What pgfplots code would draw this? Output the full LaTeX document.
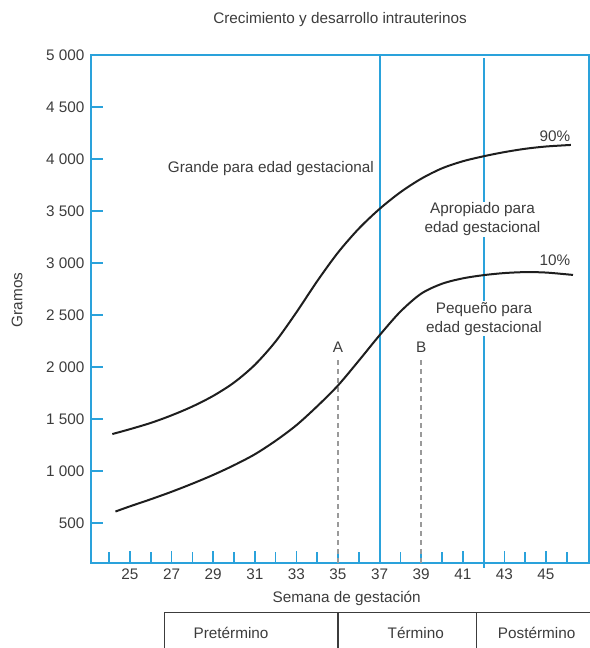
\documentclass[border=0pt]{standalone}
\usepackage{fontspec}
\setmainfont{Liberation Sans}
\usepackage{pgfplots}
\pgfplotsset{compat=1.18}

\definecolor{lineblue}{HTML}{2AA2DB}
\definecolor{txtgray}{HTML}{3C3C3C}
\definecolor{dashgray}{HTML}{9A9A9A}
\definecolor{curve}{HTML}{1E1E1E}

\begin{document}
\begin{tikzpicture}[font=\fontsize{15.3bp}{19bp}\selectfont]
\path[use as bounding box] (0,0) rectangle (590bp,648bp);
\begin{axis}[
  at={(91bp,85bp)}, anchor=south west,
  scale only axis,
  width=498bp, height=508bp,
  xmin=23.125, xmax=47.07,
  ymin=115, ymax=5000,
  clip=false,
  axis line style={lineblue, line width=2bp},
  tick align=inside,
  xtick pos=bottom, ytick pos=left,
  major tick length=12bp, minor tick length=11bp,
  tick style={lineblue, line width=1.6bp},
  xtick={25,27,...,45},
  minor xtick={24,26,...,46},
  ytick={500,1000,...,5000},
  yticklabels={500,1 000,1 500,2 000,2 500,3 000,3 500,4 000,4 500,5 000},
  /pgf/number format/assume math mode=true,
  ticklabel style={text=txtgray},
  xticklabel style={yshift=-2bp},
  yticklabel style={xshift=-3bp},
]
% weeks 37 and 42
\draw[lineblue, line width=2bp] (axis cs:37,115) -- (axis cs:37,5000);
\draw[lineblue, line width=2bp] (axis cs:42,67) -- (axis cs:42,4970);
% A and B
\draw[dashgray, line width=1.5bp, dash pattern=on 5bp off 4bp] (axis cs:35,115) -- (axis cs:35,2087);
\draw[dashgray, line width=1.5bp, dash pattern=on 5bp off 4bp] (axis cs:39,115) -- (axis cs:39,2087);

% 90th percentile
\addplot[curve, line width=2bp, smooth, no markers] coordinates {
(24.15,1355)(25,1402)(26,1462)(27,1535)(28,1620)(29,1722)(30,1850)(31,2020)
(32,2245)(33,2525)(34,2825)(35,3100)(36,3330)(37,3520)(38,3680)(39,3810)
(40,3910)(41,3978)(42,4026)(43,4066)(44,4098)(45,4120)(46.2,4135)
};
% 10th percentile
\addplot[curve, line width=2bp, smooth, no markers] coordinates {
(24.3,610)(25,660)(26,728)(27,800)(28,878)(29,962)(30,1055)(31,1160)
(32,1290)(33,1440)(34,1622)(35,1822)(36,2060)(37,2305)(38,2532)(39,2705)
(40,2800)(41,2852)(42,2883)(43,2903)(44,2912)(45,2908)(46.3,2885)
};

\node[text=txtgray] at (axis cs:35.1,5337) {Crecimiento y desarrollo intrauterinos};
\node[text=txtgray, rotate=90] at (axis cs:19.57,2644) {Gramos};
\node[text=txtgray] at (axis cs:35.42,-224) {Semana de gestación};

\node[text=txtgray] at (axis cs:31.77,3904) {Grande para edad gestacional};
\node[text=txtgray] at (axis cs:45.43,4214) {90\%};
\node[text=txtgray] at (axis cs:45.43,3029) {10\%};
\node[text=txtgray, fill=white, align=center, inner sep=1bp] at (axis cs:41.95,3418) {Apropiado para\\edad gestacional};
\node[text=txtgray, fill=white, align=center, inner sep=1bp] at (axis cs:42.02,2464) {Pequeño para\\edad gestacional};
\node[text=txtgray] at (axis cs:35,2192) {A};
\node[text=txtgray] at (axis cs:39,2192) {B};

% period table
\draw[txtgray, line width=1.5bp] (axis cs:26.65,-817) -- (axis cs:26.65,-359) -- (axis cs:48,-359);
\draw[txtgray, line width=1.5bp] (axis cs:35,-817) -- (axis cs:35,-359);
\draw[txtgray, line width=1.5bp] (axis cs:41.66,-817) -- (axis cs:41.66,-359);
\node[text=txtgray] at (axis cs:29.86,-555) {Pretérmino};
\node[text=txtgray] at (axis cs:38.74,-555) {Término};
\node[text=txtgray] at (axis cs:44.55,-555) {Postérmino};
\end{axis}
\end{tikzpicture}
\end{document}
